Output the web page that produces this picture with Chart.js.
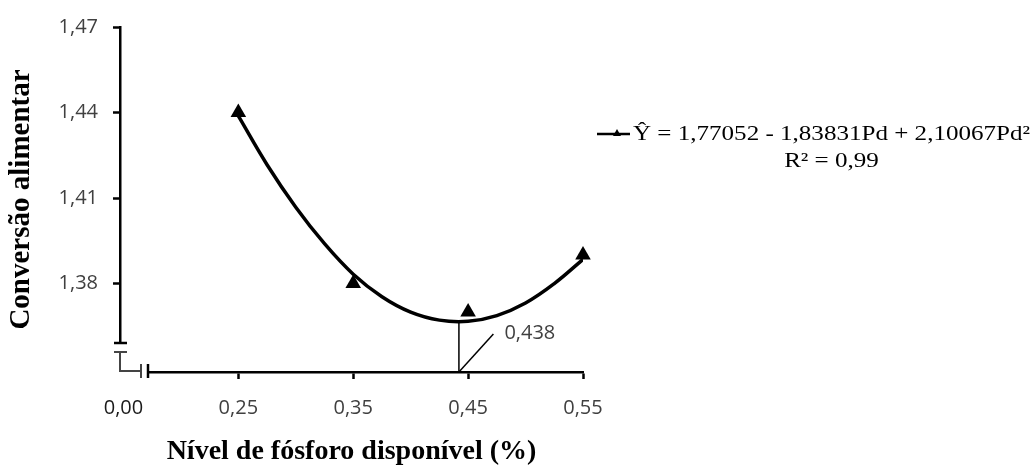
<!DOCTYPE html>
<html>
<head>
<meta charset="utf-8">
<script src="https://cdn.jsdelivr.net/npm/chart.js@4.4.1/dist/chart.umd.min.js"></script>
<style>
html, body { margin: 0; padding: 0; background: #fff; }
</style>
</head>
<body>
<canvas id="chart" width="1034" height="470"></canvas>
<script>
// observed means
const levels = [0.25, 0.35, 0.45, 0.55];
const conversion = [1.44, 1.38, 1.37, 1.39];

// fitted curve
const curveX = [0.25, 0.275, 0.30, 0.325, 0.35, 0.375, 0.40, 0.425, 0.45, 0.475, 0.50, 0.525, 0.55];
const curveY = [1.4388, 1.4217, 1.4068, 1.3940, 1.3833, 1.3754, 1.3700, 1.3672, 1.3668, 1.3688, 1.3732, 1.3800, 1.3885];

// optimum level marker
const optimumX = [0.442, 0.442];
const optimumY = [1.3666, 1.349];
const pointerX = [0.442, 0.472];
const pointerY = [1.349, 1.3623];
const optimumLabel = "0,438";

// axes
const xTicks = [0.15, 0.25, 0.35, 0.45, 0.55];
const xTickLabels = ["0,00", "0,25", "0,35", "0,45", "0,55"];
const yTicks = [1.38, 1.41, 1.44, 1.47];
const yTickLabels = ["1,38", "1,41", "1,44", "1,47"];
const xTitle = "Nível de fósforo disponível (%)";
const yTitle = "Conversão alimentar";

// legend text
const equation = "Ŷ = 1,77052 - 1,83831Pd + 2,10067Pd²";
const rSquared = "R² = 0,99";

function zip(xs, ys) {
    return xs.map((x, i) => ({ x: x, y: ys[i] }));
}

const tickFont = { family: "'Open Sans', sans-serif", size: 20 };
const titleFont = { family: "'Liberation Serif', 'Times New Roman', serif", weight: "bold" };

// broken axes, optimum label and the legend box
const extras = {
    id: "extras",
    afterDraw(chart) {
        const ctx = chart.ctx;
        const area = chart.chartArea;
        const x0 = area.left, y0 = area.bottom;
        ctx.save();

        // wipe the bottom of the y axis and the start of the x axis
        ctx.fillStyle = "#fff";
        ctx.fillRect(x0 - 3, y0 - 29, 8, 33);
        ctx.fillRect(x0 - 3, y0 - 3, 31, 6);

        ctx.strokeStyle = "#000";
        ctx.lineWidth = 2.5;
        ctx.beginPath();
        ctx.moveTo(x0 - 6, y0 - 29); ctx.lineTo(x0 + 7, y0 - 29);
        ctx.stroke();

        ctx.strokeStyle = "#444";
        ctx.lineWidth = 2;
        ctx.beginPath();
        ctx.moveTo(x0 - 6, y0 - 20); ctx.lineTo(x0 + 7, y0 - 20);
        ctx.moveTo(x0, y0 - 20); ctx.lineTo(x0, y0 - 1);
        ctx.lineTo(x0 + 21, y0 - 1);
        ctx.moveTo(x0 + 21, y0 - 8); ctx.lineTo(x0 + 21, y0 + 6);
        ctx.stroke();
        ctx.strokeStyle = "#000";
        ctx.lineWidth = 2.5;
        ctx.beginPath();
        ctx.moveTo(x0 + 28, y0 - 8); ctx.lineTo(x0 + 28, y0 + 6);
        ctx.stroke();

        // optimum label at the end of the pointer
        const xs = chart.scales.x, ys = chart.scales.y;
        const px = xs.getPixelForValue(pointerX[1]);
        const py = ys.getPixelForValue(pointerY[1]);
        ctx.fillStyle = "#404040";
        ctx.font = "20px 'Open Sans', sans-serif";
        ctx.textBaseline = "middle";
        ctx.textAlign = "left";
        ctx.fillText(optimumLabel, px + 11, py - 1);

        // legend
        const lx = area.right + 14, ly = 134;
        ctx.strokeStyle = "#000";
        ctx.lineWidth = 2.5;
        ctx.beginPath();
        ctx.moveTo(lx, ly); ctx.lineTo(lx + 33, ly);
        ctx.stroke();
        ctx.fillStyle = "#000";
        ctx.beginPath();
        ctx.moveTo(lx + 20, ly - 5);
        ctx.lineTo(lx + 24, ly + 2);
        ctx.lineTo(lx + 16, ly + 2);
        ctx.closePath();
        ctx.fill();

        ctx.font = "21px 'Liberation Serif', 'Times New Roman', serif";
        ctx.textBaseline = "alphabetic";
        const tx = lx + 36;
        const target = 397;
        const w = ctx.measureText(equation).width;
        const k = target / w;
        ctx.translate(tx, 0);
        ctx.scale(k, 1);
        ctx.textAlign = "left";
        ctx.fillText(equation, 0, 140);
        ctx.textAlign = "center";
        ctx.fillText(rSquared, w / 2, 167);
        ctx.restore();
    }
};

const config = {
    type: "scatter",
    data: {
        datasets: [
            {
                label: "curve",
                data: zip(curveX, curveY),
                showLine: true,
                borderColor: "#000",
                borderWidth: 3.5,
                pointRadius: 0,
                tension: 0.4,
                order: 2
            },
            {
                label: "optimum",
                data: zip(optimumX, optimumY),
                showLine: true,
                borderColor: "#000",
                borderWidth: 1.5,
                pointRadius: 0,
                order: 3
            },
            {
                label: "pointer",
                data: zip(pointerX, pointerY),
                showLine: true,
                borderColor: "#000",
                borderWidth: 1.5,
                pointRadius: 0,
                order: 3
            },
            {
                label: "means",
                data: zip(levels, conversion),
                showLine: false,
                pointStyle: "triangle",
                pointRadius: 9,
                backgroundColor: "#000",
                borderColor: "#000",
                borderWidth: 0,
                clip: false,
                order: 1
            }
        ]
    },
    options: {
        responsive: false,
        animation: false,
        layout: {
            padding: { left: 0, right: 451, top: 16, bottom: 0 }
        },
        plugins: {
            legend: { display: false },
            tooltip: { enabled: false }
        },
        scales: {
            x: {
                type: "linear",
                min: 0.147,
                max: 0.55,
                afterBuildTicks: (axis) => { axis.ticks = xTicks.map(v => ({ value: v })); },
                afterFit: (axis) => { axis.height = 98; },
                border: { color: "#000", width: 2.5 },
                grid: {
                    drawOnChartArea: false,
                    drawTicks: true,
                    tickLength: 7,
                    tickWidth: 2.5,
                    tickColor: (c) => c.index === 0 ? "rgba(0,0,0,0)" : "#000"
                },
                ticks: {
                    font: tickFont,
                    color: (c) => c.index === 0 ? "#1a1a1a" : "#404040",
                    padding: 17,
                    maxRotation: 0,
                    callback: (v, i) => xTickLabels[i]
                },
                title: {
                    display: true,
                    text: xTitle,
                    color: "#000",
                    font: Object.assign({ size: 28 }, titleFont),
                    padding: { top: 0, bottom: 1 }
                }
            },
            y: {
                type: "linear",
                min: 1.349,
                max: 1.47,
                afterBuildTicks: (axis) => { axis.ticks = yTicks.map(v => ({ value: v })); },
                afterFit: (axis) => { axis.width = 120; },
                border: { color: "#000", width: 2.5 },
                grid: {
                    drawOnChartArea: false,
                    drawTicks: true,
                    tickLength: 7,
                    tickWidth: 2.5,
                    tickColor: "#000"
                },
                ticks: {
                    font: tickFont,
                    color: "#404040",
                    padding: 15,
                    callback: (v, i) => yTickLabels[i]
                },
                title: {
                    display: true,
                    text: yTitle,
                    color: "#000",
                    font: Object.assign({ size: 29 }, titleFont),
                    padding: { top: 4, bottom: 0 }
                }
            }
        }
    },
    plugins: [extras]
};

new Chart(document.getElementById("chart"), config);
</script>
</body>
</html>
